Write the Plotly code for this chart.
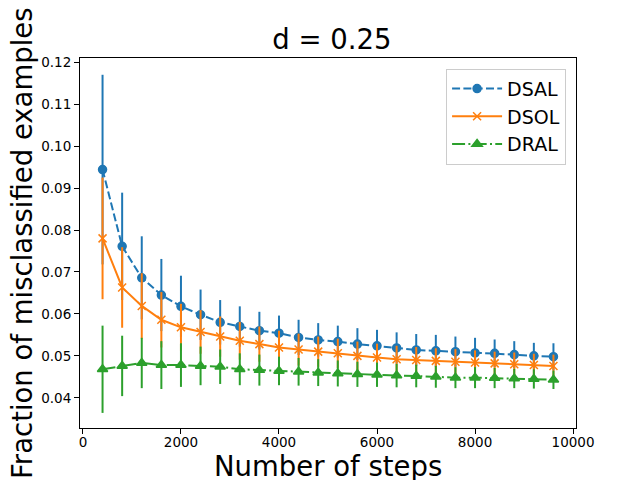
import plotly.graph_objects as go

# --- DATA ---
steps = [400, 800, 1200, 1600, 2000, 2400, 2800, 3200, 3600, 4000, 4400, 4800,
         5200, 5600, 6000, 6400, 6800, 7200, 7600, 8000, 8400, 8800, 9200, 9600]

dsal_mean = [0.0944, 0.0761, 0.0686, 0.0645, 0.0618, 0.0598, 0.0580, 0.0570,
             0.0560, 0.0554, 0.0544, 0.0538, 0.0534, 0.0528, 0.0524, 0.0519,
             0.0514, 0.0512, 0.0510, 0.0507, 0.0506, 0.0503, 0.0500, 0.0498]
dsal_err = [0.0226, 0.0128, 0.0099, 0.0086, 0.0073, 0.0060, 0.0053, 0.0048,
            0.0045, 0.0042, 0.0042, 0.0040, 0.0038, 0.0038, 0.0038, 0.0037,
            0.0038, 0.0038, 0.0036, 0.0036, 0.0033, 0.0032, 0.0031, 0.0032]

dsol_mean = [0.0780, 0.0663, 0.0619, 0.0586, 0.0568, 0.0557, 0.0546, 0.0536,
             0.0528, 0.0520, 0.0515, 0.0510, 0.0506, 0.0500, 0.0496, 0.0492,
             0.0490, 0.0488, 0.0486, 0.0484, 0.0482, 0.0480, 0.0478, 0.0476]
dsol_err = [0.0145, 0.0096, 0.0078, 0.0066, 0.0056, 0.0052, 0.0048, 0.0045,
            0.0042, 0.0040, 0.0038, 0.0036, 0.0035, 0.0034, 0.0033, 0.0032,
            0.0031, 0.0030, 0.0030, 0.0029, 0.0028, 0.0028, 0.0027, 0.0027]

dral_mean = [0.0468, 0.0476, 0.0483, 0.0478, 0.0478, 0.0476, 0.0474, 0.0468,
             0.0466, 0.0464, 0.0462, 0.0460, 0.0458, 0.0456, 0.0455, 0.0453,
             0.0452, 0.0450, 0.0448, 0.0448, 0.0447, 0.0446, 0.0445, 0.0443]
dral_err = [0.0104, 0.0072, 0.0060, 0.0057, 0.0052, 0.0046, 0.0041, 0.0038,
            0.0037, 0.0034, 0.0033, 0.0032, 0.0031, 0.0030, 0.0029, 0.0028,
            0.0027, 0.0026, 0.0025, 0.0025, 0.0024, 0.0023, 0.0023, 0.0022]

x_ticks = [0, 2000, 4000, 6000, 8000, 10000]
y_ticks = [0.04, 0.05, 0.06, 0.07, 0.08, 0.09, 0.10, 0.11, 0.12]

FONT = "DejaVu Sans"

series = [
    ("DSAL", dsal_mean, dsal_err, "#1f77b4", "8px,3.3px", "circle", 8),
    ("DSOL", dsol_mean, dsol_err, "#ff7f0e", "solid", "x-thin", 8),
    ("DRAL", dral_mean, dral_err, "#2ca02c", "13px,3.3px,2px,3.3px", "triangle-up", 9),
]

fig = go.Figure()
for name, mean, err, color, dash, symbol, size in series:
    fig.add_trace(go.Scatter(
        x=steps, y=mean, name=name, mode="lines+markers",
        line=dict(color=color, width=2, dash=dash),
        marker=dict(symbol=symbol, size=size, color=color,
                    line=dict(color=color, width=1.5)),
        error_y=dict(type="data", array=err, visible=True,
                     color=color, thickness=2, width=0),
    ))

axis_common = dict(showline=True, linecolor="black", linewidth=1.1, mirror=True,
                   ticks="outside", ticklen=5, tickwidth=1.1, tickcolor="black",
                   showgrid=False, zeroline=False,
                   tickfont=dict(family=FONT, size=13.5, color="black"))

fig.update_xaxes(range=[-60, 10060], tickvals=x_ticks,
                 ticktext=[str(t) for t in x_ticks], ticklabelstandoff=-3,
                 **axis_common)
fig.update_yaxes(range=[0.0328, 0.1210], tickvals=y_ticks, tickformat=".2f",
                 **axis_common)

fig.add_annotation(text="Number of steps", xref="paper", yref="paper",
                   x=0.5, y=-0.103, yanchor="middle", showarrow=False,
                   font=dict(family=FONT, size=27.5, color="black"))
fig.add_annotation(text="Fraction of misclassified examples", xref="paper", yref="paper",
                   x=-0.117, y=0.5, textangle=-90, xanchor="center", showarrow=False,
                   font=dict(family=FONT, size=27.5, color="black"))

# page body has an 8px margin, so the figure is 8px smaller and shifted
fig.update_layout(
    width=632, height=472,
    margin=dict(l=72, r=64, t=50, b=52, autoexpand=False),
    paper_bgcolor="white", plot_bgcolor="white",
    title=dict(text="d = 0.25", x=0.5125, xanchor="center",
               y=0.914, yref="container", yanchor="bottom",
               font=dict(family=FONT, size=27.5, color="black")),
    legend=dict(x=0.98, y=0.971, xanchor="right", yanchor="top",
                bgcolor="white", bordercolor="#cccccc", borderwidth=1,
                font=dict(family=FONT, size=19, color="black"),
                itemwidth=50),
    showlegend=True,
)

fig.write_html("out.html")
